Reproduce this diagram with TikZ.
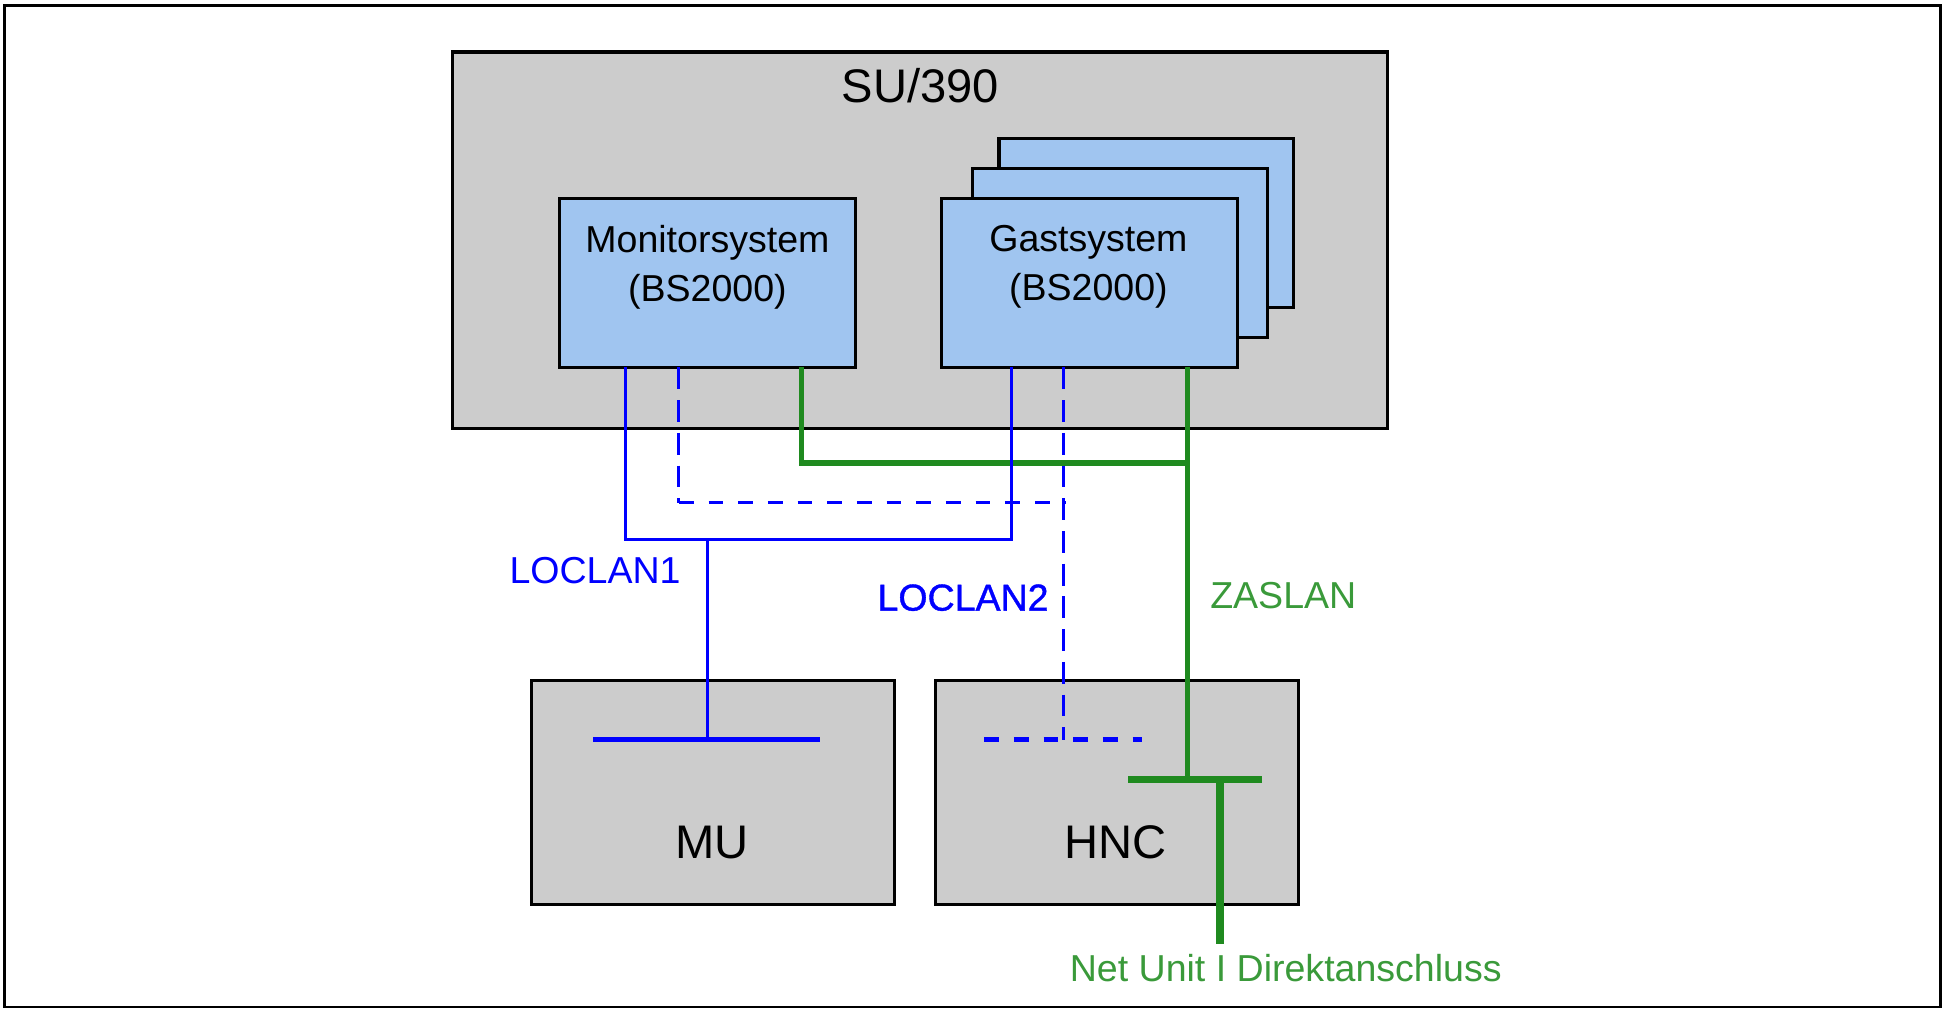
\documentclass[tikz,border=0pt]{standalone}
\usepackage{fontspec}
\setmainfont{Liberation Sans}
\newfontfamily\lanfont[FakeBold=1]{Liberation Sans}
\usetikzlibrary{positioning}

\definecolor{boxgray}{HTML}{CCCCCC}
\definecolor{sysblue}{HTML}{A0C5F0}
\definecolor{lanblue}{HTML}{0000FF}
\definecolor{zasgreen}{HTML}{1F8A1F}
\definecolor{zastext}{HTML}{3A9A3A}

\tikzset{
    unitbox/.style={draw, line width=0.7pt, fill=boxgray, inner sep=0pt},
    sysbox/.style={draw, line width=0.7pt, fill=sysblue, inner sep=0pt,
        minimum width=2.38cm, minimum height=1.36cm},
    bigtext/.style={font=\fontsize{10.8}{13}\selectfont, inner sep=0pt, anchor=base},
    systext/.style={font=\fontsize{8.6}{11.1}\selectfont, inner sep=0pt,
        align=center, anchor=north},
    lantext/.style={font=\fontsize{8.6}{10}\selectfont, inner sep=0pt, anchor=base},
    lanone/.style={lanblue, line width=0.7pt},
    lantwo/.style={lanblue, line width=0.7pt, dash pattern=on 5pt off 2.5pt},
    lantwoh/.style={lanblue, line width=0.7pt, dash pattern=on 3.4pt off 3.4pt},
    zaslan/.style={zasgreen, line width=1.2pt},
}

\begin{document}
\begin{tikzpicture}[x=0.01cm, y=-0.01cm]
    \useasboundingbox (0,0) rectangle (1568,816);
    \draw[line width=0.6pt] (3.5,4.5) rectangle (1563.5,811.5);

    % SU/390 mit Monitor- und Gastsystemen
    \node[unitbox, minimum width=7.53cm, minimum height=3.03cm] (su) at (741,193.5) {};
    \node[bigtext] (sulabel) at (741.5,83) {SU/390};
    \node[sysbox] (mon) at (570,228) {};
    \node[systext] (montext) at (570,181) {Monitorsystem\\(BS2000)};
    \node[sysbox, minimum width=2.37cm] (gast3) at (923.5,180) {};
    \node[sysbox, minimum width=2.37cm] (gast2) at (902.5,204) {};
    \node[sysbox] (gast) at (878,228) {};
    \node[systext] (gasttext) at (877,181) {Gastsystem\\(BS2000)};

    % MU und HNC
    \node[unitbox, minimum width=2.93cm, minimum height=1.80cm] (mu) at (574.5,638.5) {};
    \node[bigtext] (mulabel) at (574,692) {MU};
    \node[unitbox, minimum width=2.92cm, minimum height=1.80cm] (hnc) at (900,638.5) {};
    \node[bigtext] (hnclabel) at (899,692) {HNC};

    % Anschlusspunkte
    \coordinate (mon-l1) at (504,296);
    \coordinate (mon-l2) at (547,296);
    \coordinate (mon-za) at (646,296);
    \coordinate (gast-l1) at (815,296);
    \coordinate (gast-l2) at (857,296);
    \coordinate (gast-za) at (957,296);
    \coordinate (l1-bus) at (570,435);
    \coordinate (l2-bus) at (859,405);
    \coordinate (za-bus) at (957,373);
    \coordinate (mu-bus) at (570,596);
    \coordinate (mu-busl) at (478,596);
    \coordinate (mu-busr) at (661,596);
    \coordinate (hnc-l2) at (857,596);
    \coordinate (hnc-l2l) at (793,596);
    \coordinate (hnc-l2r) at (920,596);
    \coordinate (hnc-za) at (957,628);
    \coordinate (hnc-zal) at (909,628);
    \coordinate (hnc-zar) at (1017,628);
    \coordinate (hnc-net) at (983,628);
    \coordinate (netunit) at (983,761);

    % ZASLAN
    \draw[zaslan] (mon-za) |- (za-bus);
    \draw[zaslan] (gast-za) -- (hnc-za);
    \draw[zasgreen, line width=1.5pt] (hnc-zal) -- (hnc-zar);
    \draw[zasgreen, line width=1.8pt] (hnc-net) -- (netunit);

    % LOCLAN1
    \draw[lanone] (mon-l1) -- (mon-l1 |- l1-bus) -- (gast-l1 |- l1-bus) -- (gast-l1);
    \draw[lanone] (l1-bus) -- (mu-bus);
    \draw[lanblue, line width=1pt] (mu-busl) -- (mu-busr);

    % LOCLAN2
    \draw[lantwo] (mon-l2) -- (mon-l2 |- l2-bus);
    \draw[lantwoh] (mon-l2 |- l2-bus) -- (l2-bus);
    \draw[lantwo] (gast-l2) -- (hnc-l2);
    \draw[lantwoh, line width=1pt] (hnc-l2l) -- (hnc-l2r);

    % Beschriftungen
    \node[lantext, lanblue] (loclan1) at (479.5,470) {LOCLAN1};
    \node[lantext, lanblue, font=\fontsize{8.6}{10}\lanfont] (loclan2) at (776,492) {LOCLAN2};
    \node[lantext, zastext] (zaslabel) at (1034,490) {ZASLAN};
    \node[lantext, zastext] (netlabel) at (1036,791) {Net Unit I Direktanschluss};
\end{tikzpicture}
\end{document}
